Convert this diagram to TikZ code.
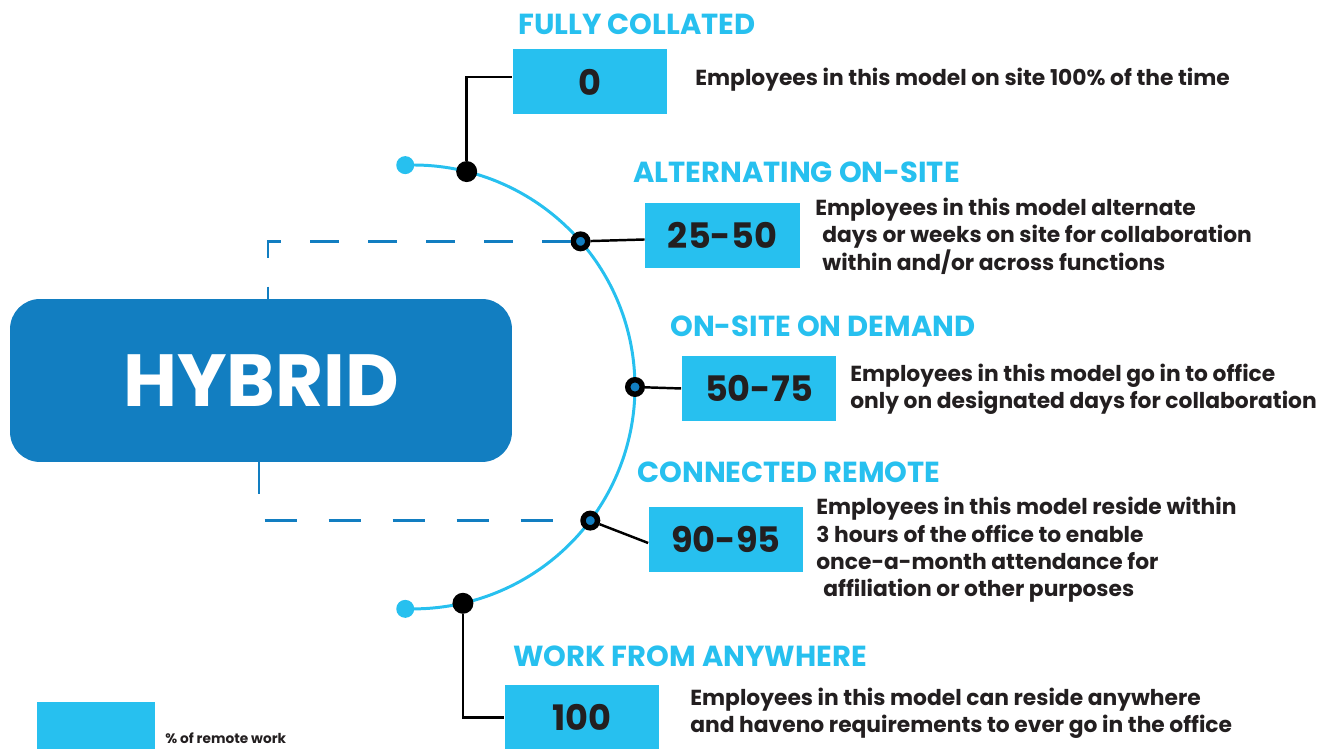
\documentclass[tikz,border=0pt]{standalone}
\usepackage{fontspec}
\setmainfont{Poppins}
\usetikzlibrary{calc, positioning}
\definecolor{skyblue}{HTML}{27C0EF}
\definecolor{deepblue}{HTML}{127EC1}
\definecolor{inkblack}{HTML}{231F20}
\tikzset{
  hybridbox/.style={
    rectangle, rounded corners=0.6cm, minimum width=10.04cm, minimum height=3.26cm,
    fill=deepblue, text=white, font=\bfseries\fontsize{42}{48}\selectfont
  },
  valbox/.style={
    rectangle, minimum width=3.1cm, minimum height=1.3cm, inner sep=0pt,
    fill=skyblue, text=inkblack, font=\bfseries\fontsize{20}{24}\selectfont
  },
  heading/.style={
    anchor=base west, inner sep=0pt, text=skyblue,
    font=\bfseries\fontsize{16.5}{19}\selectfont
  },
  desc/.style={
    anchor=west, align=left, inner sep=0pt, text=inkblack,
    font=\bfseries\fontsize{12.4}{15.6}\selectfont
  },
  keytext/.style={
    anchor=base west, inner sep=0pt, text=inkblack,
    font=\bfseries\fontsize{7.8}{9}\selectfont
  },
  ringdot/.style={circle, minimum size=0.29cm, inner sep=0pt, fill=deepblue, draw=black, line width=3.1pt},
  fulldot/.style={circle, minimum size=0.42cm, inner sep=0pt, fill=black},
  enddot/.style={circle, minimum size=0.36cm, inner sep=0pt, fill=skyblue},
  link/.style={draw=black, line width=1.4pt},
  dashline/.style={draw=deepblue, line width=1.7pt, dash pattern=on 0.58cm off 0.58cm}
}

\begin{document}
\begin{tikzpicture}[x=0.02cm, y=0.02cm]
  \useasboundingbox (0,0) rectangle (1330,749);

  % Points on the arc
  \coordinate (c) at (413,362);
  \coordinate (a0) at ($(c)+(92:222)$);
  \coordinate (a1) at ($(c)+(76:222)$);
  \coordinate (a2) at ($(c)+(41:222)$);
  \coordinate (a3) at ($(c)+(0:222)$);
  \coordinate (a4) at ($(c)+(-37:222)$);
  \coordinate (a5) at ($(c)+(-77:222)$);
  \coordinate (a6) at ($(c)+(-92:222)$);

  % Hybrid block
  \node[hybridbox] (hyb) at (261,368.5) {HYBRID};

  % Arc
  \draw[skyblue, line width=1.7pt] (a0) arc[start angle=92, end angle=-92, radius=4.44cm];
  \node[enddot] (e1) at (a0) {};
  \node[enddot] (e2) at (a6) {};
  \node[fulldot] (p1) at (a1) {};
  \node[ringdot] (p2) at (a2) {};
  \node[ringdot] (p3) at (a3) {};
  \node[ringdot] (p4) at (a4) {};
  \node[fulldot] (p5) at (a5) {};

  % Models
  \node[heading] (h0) at (518,714) {FULLY COLLATED};
  \node[valbox] (v0) at (590,667) {0};
  \node[desc] (t0) at (695,669) {Employees in this model on site 100\% of the time};

  \node[heading] (h25) at (633,566) {ALTERNATING ON-SITE};
  \node[valbox] (v25) at (722.5,513.5) {25-50};
  \node[desc] (t25) at (815,513) {Employees in this model alternate\\
    \hspace*{4pt}days or weeks on site for collaboration\\
    \hspace*{4pt}within and/or across functions};

  \node[heading] (h50) at (670,412) {ON-SITE ON DEMAND};
  \node[valbox] (v50) at (759,360.5) {50-75};
  \node[desc] (t50) at (850,360) {Employees in this model go in to office\\
    only on designated days for collaboration};

  \node[heading] (h90) at (637,266) {CONNECTED REMOTE};
  \node[valbox] (v90) at (726,209.5) {90-95};
  \node[desc] (t90) at (816,199) {Employees in this model reside within\\
    3 hours of the office to enable\\
    once-a-month attendance for\\
    \hspace*{4pt}affiliation or other purposes};

  \node[heading] (h100) at (513,82) {WORK FROM ANYWHERE};
  \node[valbox] (v100) at (582,31.5) {100};
  \node[desc] (t100) at (690,36) {Employees in this model can reside anywhere\\
    and haveno requirements to ever go in the office};

  % Links
  \draw[dashline] (p2) -| ([xshift=0.14cm]hyb.north);
  \draw[dashline, dash pattern=on 0.64cm off 0.64cm] ([xshift=-0.04cm]hyb.south) |- (p4);
  \draw[link] (p1) |- ([yshift=0.1cm]v0.west);
  \draw[link] (p2) -- ([yshift=-0.08cm]v25.west);
  \draw[link] (p3) -- (v50.west);
  \draw[link] (p4) -- ([yshift=-0.07cm]v90.west);
  \draw[link] (p5) |- (v100.west);

  % Key
  \node[valbox, minimum width=2.36cm, minimum height=0.94cm] (key) at (96,23.5) {};
  \node[keytext] (keylbl) at (165,5) {\% of remote work};
\end{tikzpicture}
\end{document}
